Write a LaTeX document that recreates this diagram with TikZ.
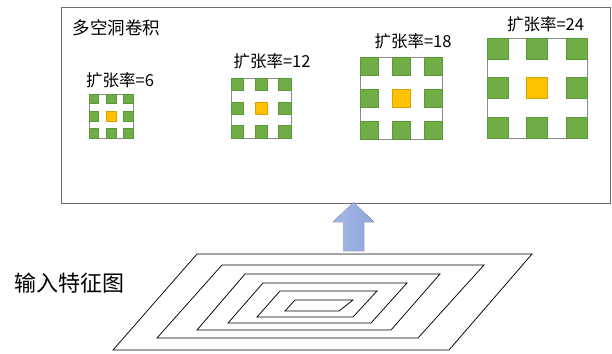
\documentclass[tikz,border=0pt]{standalone}
\usepackage{fontspec}
\setmainfont{Noto Sans CJK SC}
\definecolor{kgreen}{HTML}{70AD47}
\definecolor{kgreenb}{HTML}{5B9A38}
\definecolor{korange}{HTML}{FFC000}
\definecolor{korangeb}{HTML}{D8A300}
\definecolor{kframe}{HTML}{6E6E6E}
\definecolor{karrowL}{HTML}{A4B9E6}
\definecolor{karrowR}{HTML}{8EA3DA}
\tikzset{
  frame/.style={draw=kframe, line width=0.9pt},
  rate/.style={inner sep=0pt, font=\fontsize{16.5}{17}\selectfont},
  gcell/.style={fill=kgreen, draw=kgreenb, line width=0.4pt},
  ocell/.style={fill=korange, draw=korangeb, line width=0.5pt},
  mframe/.style={draw=kframe!80, line width=0.7pt},
  fmline/.style={draw=black, line width=0.75pt, line join=miter},
}
% #1 x0, #2 y0, #3 S, #4 s
\newcommand{\dilmat}[4]{%
  \pgfmathsetmacro{\dd}{(#3-#4)/2}%
  \draw[mframe] (#1,#2) rectangle ++(#3,#3);
  \foreach \i in {0,1,2}{\foreach \j in {0,1,2}{%
    \ifnum\i=1 \ifnum\j=1 \else
      \draw[gcell] (#1+\i*\dd,#2+\j*\dd) rectangle ++(#4,#4);
    \fi\else
      \draw[gcell] (#1+\i*\dd,#2+\j*\dd) rectangle ++(#4,#4);
    \fi}}
  \draw[ocell] (#1+\dd,#2+\dd) rectangle ++(#4,#4);
}
\begin{document}
\begin{tikzpicture}[x=1pt,y=-1pt]
\useasboundingbox (0,0) rectangle (612,353);
% big frame
\node[frame, anchor=north west, minimum width=549pt, minimum height=195pt, inner sep=0pt] (box) at (61,7.5) {};
\node[inner sep=0pt, anchor=west, font=\fontsize{17.5}{18}\selectfont] (title) at (72.5,28) {多空洞卷积};
% dilated kernels
\dilmat{89}{94}{44}{9.5}
\dilmat{231}{78}{60}{12.5}
\dilmat{360}{57}{82}{18}
\dilmat{487}{38}{100}{21}
\node[rate] (r6) at (120,80) {扩张率=6};
\node[rate] (r12) at (272,61) {扩张率=12};
\node[rate] (r18) at (413,41) {扩张率=18};
\node[rate] (r24) at (545.5,24) {扩张率=24};
% feature map
\draw[fmline] (197,254) -- (532,254) -- (449,350) -- (113,350) -- cycle;
\draw[fmline] (222,265) -- (484,265) -- (418,338) -- (157,338) -- cycle;
\draw[fmline] (245,274) -- (440,274) -- (391,330) -- (197,330) -- cycle;
\draw[fmline] (263,283) -- (407,283) -- (371,323) -- (228,323) -- cycle;
\draw[fmline] (280,291) -- (377,291) -- (353,317) -- (257,317) -- cycle;
\draw[fmline] (295,300) -- (353,300) -- (339,311) -- (285,311) -- cycle;
\node[inner sep=0pt, anchor=west, font=\fontsize{22}{24}\selectfont] (fmlabel) at (14,283.5) {输入特征图};
% arrow
\coordinate (fmtop) at (353.5,251);
\coordinate (tip) at (353.5,202.2);
\fill[left color=karrowL, right color=karrowR]
  ([xshift=-10.5pt]fmtop) -- ([xshift=-10.5pt,yshift=29pt]fmtop) -- ([xshift=-20.5pt,yshift=29pt]fmtop)
  -- (tip) -- ([xshift=20.5pt,yshift=29pt]fmtop) -- ([xshift=10.5pt,yshift=29pt]fmtop)
  -- ([xshift=10.5pt]fmtop) -- cycle;
\end{tikzpicture}
\end{document}
